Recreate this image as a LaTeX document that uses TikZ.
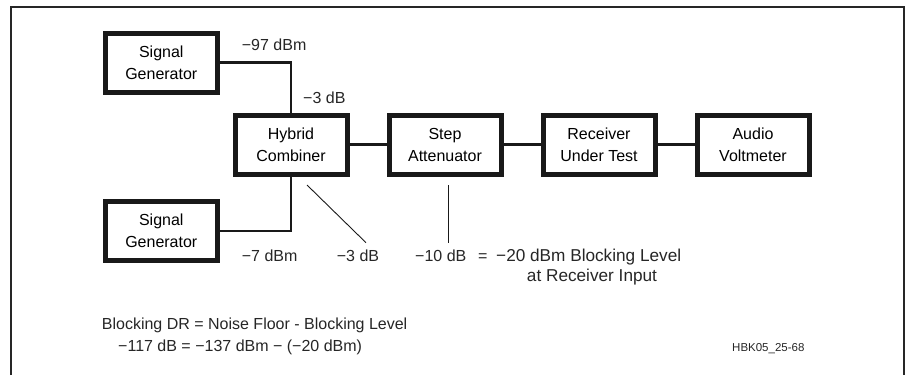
\documentclass[tikz,border=0pt]{standalone}
\usepackage{fontspec}
\setmainfont{Liberation Sans}
\usetikzlibrary{positioning}

\begin{document}
\begin{tikzpicture}[
    x=1pt, y=-1pt,
    node distance=37pt,
    font=\fontsize{16}{22}\selectfont,
    box/.style={rectangle, draw=black!90, line width=5pt, align=center, minimum width=112pt, minimum height=59pt, inner sep=0pt},
    wire/.style={line width=2.6pt, black!90},
    tick/.style={line width=0.9pt, black!90},
    lbl/.style={anchor=base west, inner sep=0pt, text=black!85}
]
\useasboundingbox (0,0) rectangle (910,375);
% frame, open at the bottom
\draw[line width=2pt, black!85] (11,375) |- (904,6.5) -- (904,375);

\node[box] (hybrid) at (291,144.5) {Hybrid\\Combiner};
\node[box, right=of hybrid] (step) {Step\\Attenuator};
\node[box, right=of step] (rx) {Receiver\\Under Test};
\node[box, right=of rx] (volt) {Audio\\Voltmeter};
\node[box] (gen1) at (161.3,62.5) {Signal\\Generator};
\node[box] (gen2) at (161.3,231) {Signal\\Generator};

\draw[wire] (gen1.east) -| (hybrid.north);
\draw[wire] (gen2.east) -| (hybrid.south);
\draw[wire] (hybrid) -- (step);
\draw[wire] (step) -- (rx);
\draw[wire] (rx) -- (volt);

\coordinate (diagA) at (307,185);
\coordinate (diagB) at (366,242.7);
\coordinate (attA) at (448,185);
\coordinate (attB) at (448,242.7);
\draw[tick] (diagA) -- (diagB);
\draw[tick] (attA) -- (attB);

\node[lbl] (lvl97) at (241.7,50) {−97 dBm};
\node[lbl] (loss1) at (303,103) {−3 dB};
\node[lbl] (lvl7) at (241.7,261.7) {−7 dBm};
\node[lbl] (loss2) at (336.7,261.7) {−3 dB};
\node[lbl] (att10) at (415,261.7) {−10 dB};
\node[lbl] (eq) at (478,261.7) {=};
\node[lbl, font=\fontsize{17.2}{22}\selectfont] (blk) at (496,261.7) {−20 dBm Blocking Level};
\node[anchor=base, inner sep=0pt, text=black!85, font=\fontsize{17.2}{22}\selectfont] (rxin) at (592,281.5) {at Receiver Input};

\node[lbl] (formula) at (101.7,329.5) {Blocking DR = Noise Floor - Blocking Level};
\node[lbl] (values) at (118,351.7) {−117 dB = −137 dBm − (−20 dBm)};
\node[lbl, font=\fontsize{11.5}{13}\selectfont] (figid) at (732,351.7) {HBK05\_25-68};
\end{tikzpicture}
\end{document}
